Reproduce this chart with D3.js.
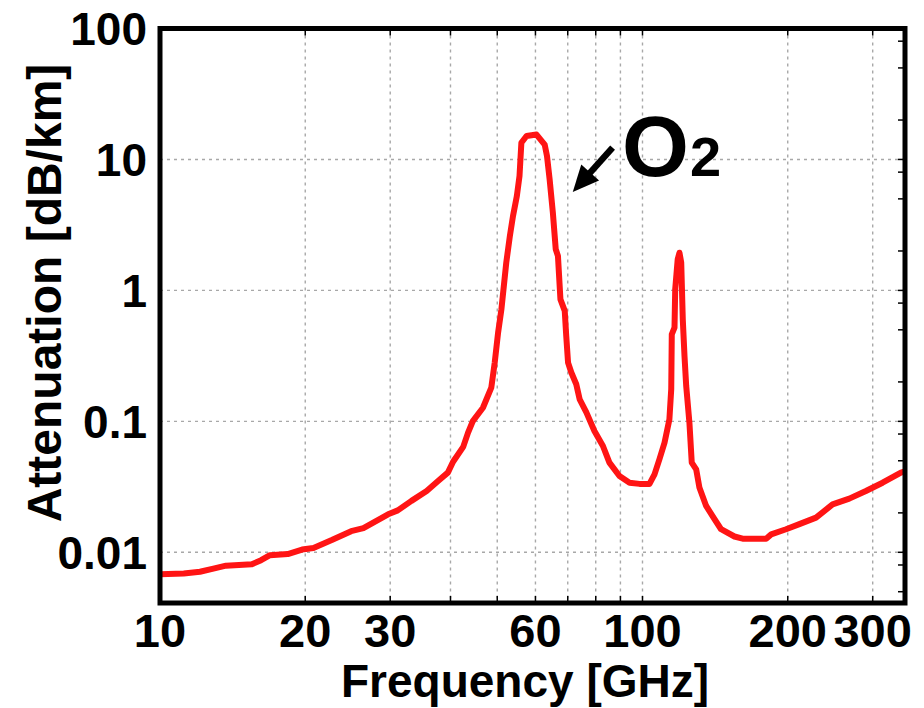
<!DOCTYPE html>
<html>
<head>
<meta charset="utf-8">
<script src="https://cdn.jsdelivr.net/npm/d3@7"></script>
<style>
    html, body { margin: 0; padding: 0; background: #fff; }
    svg { display: block; font-family: Arial, "Liberation Sans", Helvetica, sans-serif; font-weight: bold; }
    .grid line { stroke: #a8a8a8; stroke-width: 1.4px; stroke-dasharray: 3 4; }
    .tick-mark { stroke: #000; stroke-width: 1.5px; }
    .frame { fill: none; stroke: #000; stroke-width: 5px; }
    .curve { fill: none; stroke: #ff1414; stroke-width: 6px; stroke-linejoin: round; }
</style>
</head>
<body>
<svg id="chart" width="924" height="708"></svg>
<script>
// values
const freqGHz = [10, 11.2, 12.1, 12.9, 13.7, 15.5, 16.2, 16.9, 18.4, 19.7, 20.8, 22.7, 24.9, 26.4, 29.7,
    31.1, 33.2, 35.7, 37.7, 39.5, 40.5, 42.5, 43.5, 44.5, 46.7, 48.6, 49.4, 50.2, 51.0, 52.2,
    53.1, 53.9, 54.9, 55.6, 56.1, 57.5, 60.3, 62.7, 63.4, 64.2, 65.2, 66.1, 66.8, 67.6, 69.0,
    69.5, 70.1, 71.2, 72.9, 74.1, 76.5, 79.5, 82.8, 85.4, 89.6, 94.0, 98.6, 103.4, 105.9, 108.4,
    111.1, 113.7, 114.7, 115.0, 116.5, 116.9, 118.3, 119.3, 120.3, 121.2, 122.2, 123.2, 125.1, 126.5, 129.2,
    131.2, 135.5, 141, 145.5, 155.1, 161.3, 180.4, 184.8, 198.4, 211.4, 228.9, 247.7, 268.3, 290.4, 314.5,
    343.2, 350];
const attenDbKm = [0.0068, 0.0069, 0.0071, 0.0075, 0.0079, 0.0081, 0.0087, 0.0095, 0.0097, 0.0105, 0.0108, 0.0124, 0.0145, 0.0153, 0.0195,
    0.0209, 0.0247, 0.0294, 0.035, 0.0406, 0.0491, 0.0638, 0.082, 0.1005, 0.127, 0.181, 0.281, 0.475, 0.716, 1.63,
    2.6, 3.69, 5.25, 7.46, 13.4, 15.1, 15.5, 13.0, 10.6, 7.04, 3.92, 2.06, 1.83, 0.854, 0.698,
    0.448, 0.281, 0.236, 0.192, 0.147, 0.117, 0.0843, 0.0648, 0.0484, 0.0382, 0.034, 0.0333, 0.0333, 0.0394, 0.0513,
    0.0687, 0.1035, 0.176, 0.461, 0.519, 1.02, 1.73, 1.94, 1.63, 0.601, 0.315, 0.186, 0.0977, 0.0484, 0.043,
    0.0313, 0.0226, 0.0179, 0.015, 0.0132, 0.0127, 0.0127, 0.0137, 0.015, 0.0164, 0.0184, 0.0232, 0.0257, 0.0294, 0.034,
    0.0406, 0.0415];

const xTickLabels = [10, 20, 30, 60, 100, 200, 300];
const xGridValues = [20, 30, 40, 50, 60, 70, 80, 90, 100, 200, 300];
const yTickLabels = [0.01, 0.1, 1, 10, 100];
const yGridValues = [0.01, 0.1, 1, 10];
const yMinorTicks = [0.005, 0.008, 0.02, 0.05, 0.08, 0.2, 0.5, 0.8, 2, 5, 8, 20, 50, 80];

const margin = { left: 160, right: 905, top: 28.5, bottom: 603 };

const svg = d3.select('#chart');

const x = d3.scaleLog().domain([10, 350]).range([margin.left, margin.right]);
const y = d3.scaleLog().domain([0.0041, 100]).range([margin.bottom, margin.top]);

// dotted grid
const grid = svg.append('g').attr('class', 'grid');
grid.selectAll('.vx').data(xGridValues).enter().append('line')
    .attr('x1', d => x(d)).attr('x2', d => x(d))
    .attr('y1', margin.top).attr('y2', margin.bottom);
grid.selectAll('.hy').data(yGridValues).enter().append('line')
    .attr('y1', d => y(d)).attr('y2', d => y(d))
    .attr('x1', margin.left).attr('x2', margin.right);

// inward ticks, top/bottom and right side
const ticks = svg.append('g');
xGridValues.forEach(v => {
    ticks.append('line').attr('class', 'tick-mark')
        .attr('x1', x(v)).attr('x2', x(v)).attr('y1', margin.top).attr('y2', margin.top + 7);
    ticks.append('line').attr('class', 'tick-mark')
        .attr('x1', x(v)).attr('x2', x(v)).attr('y1', margin.bottom).attr('y2', margin.bottom - 7);
});
yMinorTicks.concat(yGridValues).forEach(v => {
    ticks.append('line').attr('class', 'tick-mark')
        .attr('y1', y(v)).attr('y2', y(v)).attr('x1', margin.right).attr('x2', margin.right - 7);
});

// the curve
svg.append('clipPath').attr('id', 'clip').append('rect')
    .attr('x', margin.left).attr('y', margin.top)
    .attr('width', margin.right - margin.left).attr('height', margin.bottom - margin.top);

const points = freqGHz.map((f, i) => [f, attenDbKm[i]]);
const line = d3.line().x(d => x(d[0])).y(d => y(d[1]));
svg.append('path').attr('class', 'curve').attr('clip-path', 'url(#clip)')
    .datum(points).attr('d', line);

// frame
svg.append('rect').attr('class', 'frame')
    .attr('x', margin.left).attr('y', margin.top)
    .attr('width', margin.right - margin.left).attr('height', margin.bottom - margin.top);

// tick labels
svg.append('g').selectAll('text').data(xTickLabels).enter().append('text')
    .attr('x', d => x(d)).attr('y', 647)
    .attr('text-anchor', 'middle').attr('font-size', 47)
    .text(d => d);

svg.append('g').selectAll('text').data(yTickLabels).enter().append('text')
    .attr('x', 147).attr('y', d => y(d)).attr('dy', '0.36em')
    .attr('text-anchor', 'end').attr('font-size', 46)
    .text(d => d);

// axis titles
svg.append('text').attr('x', 525).attr('y', 697)
    .attr('text-anchor', 'middle').attr('font-size', 46)
    .text('Frequency [GHz]');

svg.append('text').attr('transform', 'translate(61,293) rotate(-90)')
    .attr('text-anchor', 'middle').attr('font-size', 48)
    .text('Attenuation [dB/km]');

// O2 annotation with arrow
const tail = [x(86.7), y(12.3)];
const tip = [x(71.7), y(5.65)];
const ang = Math.atan2(tip[1] - tail[1], tip[0] - tail[0]);
const headLen = 26, headW = 12;
const base = [tip[0] - headLen * Math.cos(ang), tip[1] - headLen * Math.sin(ang)];
svg.append('line')
    .attr('x1', tail[0]).attr('y1', tail[1])
    .attr('x2', base[0] + 3 * Math.cos(ang)).attr('y2', base[1] + 3 * Math.sin(ang))
    .attr('stroke', '#000').attr('stroke-width', 6.5);
svg.append('path')
    .attr('d', d3.line()([
        tip,
        [base[0] + headW * Math.sin(ang), base[1] - headW * Math.cos(ang)],
        [base[0] - headW * Math.sin(ang), base[1] + headW * Math.cos(ang)]
    ]) + 'Z')
    .attr('fill', '#000');

const o2 = svg.append('text').attr('x', x(90.7)).attr('y', y(7.41)).attr('font-size', 86);
o2.append('tspan').text('O');
o2.append('tspan').attr('font-size', 56).attr('dx', 1).text('2');
</script>
</body>
</html>
